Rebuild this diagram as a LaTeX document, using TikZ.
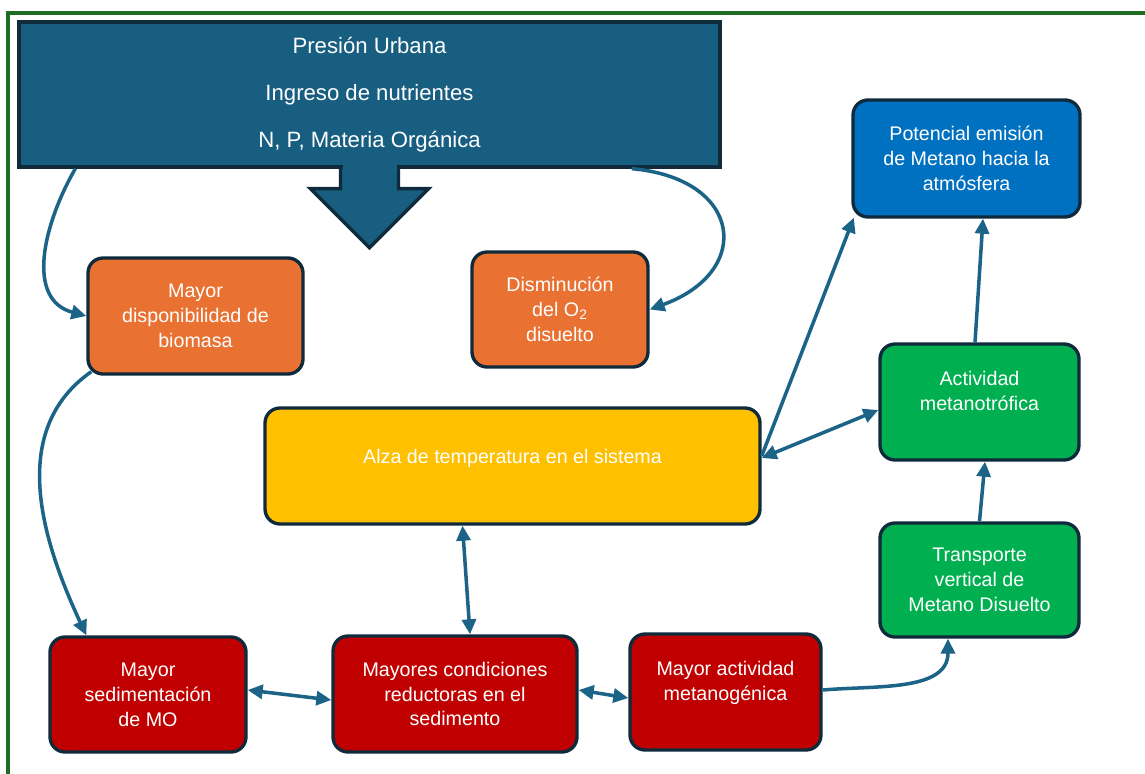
\documentclass[tikz,border=0pt]{standalone}
\usepackage{fontspec}
\setmainfont{Liberation Sans}
\usetikzlibrary{arrows.meta,calc}

\definecolor{urbblue}{HTML}{175E80}
\definecolor{edgenavy}{HTML}{0E2A3B}
\definecolor{linkblue}{HTML}{1B6387}
\definecolor{boxorange}{HTML}{E97132}
\definecolor{boxred}{HTML}{C00000}
\definecolor{boxgreen}{HTML}{00B050}
\definecolor{boxyellow}{HTML}{FFC000}
\definecolor{boxblue}{HTML}{0070C0}
\definecolor{framegreen}{HTML}{1E6B22}

\begin{document}
\begin{tikzpicture}[box/.style={rectangle, rounded corners=0.3cm, draw=edgenavy, line width=1.9pt, text=white, align=center, font=\fontsize{11.2}{14.2}\selectfont, minimum height=2.32cm},
    link/.style={draw=linkblue, line width=2pt, >={Triangle[length=0.3cm,width=0.28cm]}}]
    \useasboundingbox (0,0) rectangle (22.9,15.46);
    \draw[framegreen, line width=2.3pt] (0.16,-0.5) -- (0.16,15.2) -- (23.5,15.2);

    \node at (7.39, 13.57) [rectangle, draw=edgenavy, fill=urbblue, line width=1.9pt, minimum width=14.02cm, minimum height=2.9cm, text=white, align=center, font=\fontsize{12.6}{26.7}\selectfont] (urb) {Presión Urbana\\Ingreso de nutrientes\\N, P, Materia Orgánica};
    \draw[edgenavy, fill=urbblue, line width=1.9pt] ($(urb.south)+(-0.58,0)$) -- ++(0,-0.4) -- ++(-0.6,0) -- ($(urb.south)+(0,-1.58)$) -- ($(urb.south)+(1.18,-0.4)$) -- ++(-0.6,0) -- ++(0,0.4);
    \fill[urbblue] ($(urb.south)+(-0.54,-0.05)$) rectangle ($(urb.south)+(0.54,0.1)$);

    \node at (3.91, 9.14) [box, fill=boxorange, minimum width=4.3cm] (biom) {Mayor\\disponibilidad de\\biomasa};
    \node at (11.2, 9.27) [box, fill=boxorange, minimum width=3.52cm, minimum height=2.3cm] (oxig) {Disminución\\del O\textsubscript{2}\\disuelto};
    \node at (19.33, 12.29) [box, fill=boxblue, minimum width=4.54cm, minimum height=2.34cm] (emis) {Potencial emisión\\de Metano hacia la\\atmósfera};
    \node at (10.25, 6.14) [box, fill=boxyellow, minimum width=9.9cm, text depth=0.4cm] (temp) {Alza de temperatura en el sistema};
    \node at (19.59, 7.42) [box, fill=boxgreen, minimum width=3.98cm, text depth=0.45cm] (mtrof) {Actividad\\metanotrófica};
    \node at (19.59, 3.86) [box, fill=boxgreen, minimum width=3.98cm, minimum height=2.28cm] (trans) {Transporte\\vertical de\\Metano Disuelto};
    \node at (2.96, 1.57) [box, fill=boxred, minimum width=3.92cm, minimum height=2.3cm] (sedi) {Mayor\\sedimentación\\de MO};
    \node at (9.1, 1.58) [box, fill=boxred, minimum width=4.88cm] (redu) {Mayores condiciones\\reductoras en el\\sedimento};
    \node at (14.51, 1.62) [box, fill=boxred, minimum width=3.82cm, text depth=0.45cm] (mgen) {Mayor actividad\\metanogénica};

    \draw[link, ->] ($(urb.south west)+(1.16,0)$) to[out=240, in=165, looseness=1.1] (biom.west);
    \draw[link, ->] ($(urb.south east)+(-1.8,0)$) to[out=-5, in=20, looseness=2] (oxig.east);
    \draw[link, ->] ($(biom.south west)+(0.1,0.08)$) to[out=215, in=115] ($(sedi.north west)+(0.76,0)$);
    \draw[link, <->] ($(temp.south)+(-1.0,0)$) -- ($(redu.north)+(0.3,0)$);
    \draw[link, <->] ($(sedi.east)+(0,0.09)$) -- ($(redu.west)+(0,-0.12)$);
    \draw[link, <->] ($(redu.east)+(0,0.08)$) -- ($(mgen.west)+(0,-0.12)$);
    \draw[link, ->] ($(mgen.east)+(0,0.04)$) to[out=5, in=-90] ($(trans.south)+(-0.63,0)$);
    \draw[link, ->] (trans.north) -- ($(mtrof.south)+(0.11,0)$);
    \draw[link, ->] ($(mtrof.north)+(-0.09,0)$) -- ($(emis.south)+(0.33,0)$);
    \draw[link, <->] ($(temp.east)+(0,0.16)$) -- ($(mtrof.west)+(0,-0.16)$);
    \draw[link, ->] ($(temp.east)+(0,0.2)$) -- ($(emis.south west)+(0.05,0.02)$);
\end{tikzpicture}
\end{document}
